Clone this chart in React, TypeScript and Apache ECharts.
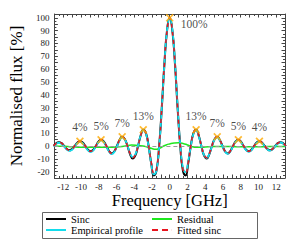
import React, { useEffect, useRef } from 'react';
import * as echarts from 'echarts';

// Frequency samples [GHz]
const freq = [
  -13.09, -12.79, -12.5, -12.2, -11.9, -11.6, -11.31, -11.01, -10.71, -10.41, -10.12, -9.82, -9.52, -9.22, -8.93,
  -8.63, -8.33, -8.03, -7.74, -7.44, -7.14, -6.84, -6.55, -6.25, -5.95, -5.65, -5.36, -5.06, -4.76, -4.46, -4.17,
  -3.87, -3.57, -3.27, -2.98, -2.68, -2.38, -2.08, -1.79, -1.49, -1.19, -0.89, -0.6, -0.3, 0, 0.3, 0.6, 0.89, 1.19,
  1.49, 1.79, 2.08, 2.38, 2.68, 2.98, 3.27, 3.57, 3.87, 4.17, 4.46, 4.76, 5.06, 5.36, 5.65, 5.95, 6.25, 6.55, 6.84,
  7.14, 7.44, 7.74, 8.03, 8.33, 8.63, 8.93, 9.22, 9.52, 9.82, 10.12, 10.41, 10.71, 11.01, 11.31, 11.6, 11.9, 12.2,
  12.5, 12.79, 13.09,
];

// Normalised flux [%]
const sinc = [
  0, 2.1, 3.0, 2.2, 0, -2.3, -3.4, -2.4, 0, 2.6, 3.7, 2.7, 0, -2.9, -4.2, -3.1, 0, 3.3, 4.9, 3.6, 0, -3.9, -5.8,
  -4.3, 0, 4.7, 7.1, 5.3, 0, -6.5, -9.8, -7.4, 0, 8.2, 12.7, 10.0, 0, -13.8, -23.0, -19.2, 0, 30.0, 63.7, 90.0, 100,
  90.0, 63.7, 30.0, 0, -19.2, -23.0, -13.8, 0, 10.0, 12.7, 8.2, 0, -7.4, -9.8, -6.5, 0, 5.3, 7.1, 4.7, 0, -4.3, -5.8,
  -3.9, 0, 3.6, 4.9, 3.3, 0, -3.1, -4.2, -2.9, 0, 2.7, 3.7, 2.6, 0, -2.4, -3.4, -2.3, 0, 2.2, 3.0, 2.1, 0,
];

const empirical = [
  -0.5, 1.6, 2.5, 1.7, -0.5, -2.8, -3.9, -2.9, -0.5, 2.1, 3.2, 2.2, -0.5, -3.4, -4.7, -3.6, -0.5, 2.8, 4.4, 3.1,
  -0.5, -4.4, -6.3, -4.8, -0.4, 4.3, 6.7, 5.1, 0.2, -5.7, -8.8, -6.6, 0.3, 8.2, 12.4, 9.7, -0.8, -13.9, -22.2, -19.0,
  -0.8, 29.6, 63.7, 90.3, 100, 91.0, 64.7, 31.0, 1.0, -17.2, -20.4, -12.3, -0.3, 9.5, 12.2, 7.8, -0.3, -7.2, -9.4,
  -6.3, -0.3, 5.0, 6.8, 4.4, -0.3, -4.6, -6.1, -4.2, -0.3, 3.3, 4.6, 3.0, -0.3, -3.4, -4.5, -3.2, -0.3, 2.4, 3.4,
  2.3, -0.3, -2.7, -3.7, -2.6, -0.3, 1.9, 2.7, 1.8, -0.3,
];

const fitted = [
  0, 2.1, 3.0, 2.2, 0, -2.3, -3.4, -2.4, 0, 2.6, 3.7, 2.7, 0, -2.9, -4.2, -3.1, 0, 3.3, 4.9, 3.6, 0, -3.9, -5.8,
  -4.3, 0, 4.7, 7.1, 5.3, 0, -6.0, -9.1, -6.9, 0, 8.2, 12.7, 10.0, 0, -12.9, -21.2, -18.0, 0, 30.0, 63.7, 90.0, 100,
  90.0, 63.7, 30.0, 0, -18.0, -21.2, -12.9, 0, 10.0, 12.7, 8.2, 0, -6.9, -9.1, -6.0, 0, 5.3, 7.1, 4.7, 0, -4.3, -5.8,
  -3.9, 0, 3.6, 4.9, 3.3, 0, -3.1, -4.2, -2.9, 0, 2.7, 3.7, 2.6, 0, -2.4, -3.4, -2.3, 0, 2.2, 3.0, 2.1, 0,
];

const resFreq = [
  -13, -12, -11, -10, -9, -8, -7, -6, -5, -4.3, -3.5, -3, -2.5, -2, -1.6, -1.2, -0.8, -0.4, 0, 0.5, 1, 1.5, 2, 2.5,
  3, 3.5, 4, 5, 6, 7, 8, 9, 10, 11, 12, 13,
];
const residual = [
  0, -0.3, -0.7, -1, -1, -1, -1, -0.8, 0, 0.7, 0.3, 0, -1, -2, -2.6, -2, -0.5, 0.8, 1.6, 2.3, 2.5, 2, 0.8, -0.5, -1,
  -1, -0.8, -0.5, -0.5, -0.5, -0.6, -0.6, -0.6, -0.5, -0.5, -0.5,
];

const peakFreq = [-10.12, -7.74, -5.36, -2.98, 0, 2.98, 5.36, 7.74, 10.12];
const peakVals = [3.7, 4.9, 7.1, 12.7, 100, 12.7, 7.1, 4.9, 3.7];
const peakLabels = ['4%', '5%', '7%', '13%', '100%', '13%', '7%', '5%', '4%'];

const FONT = 'serif';
const AXIS_COLOR = '#444';
const X_SYMBOL =
  'path://M0,1.5 L1.5,0 L5,3.5 L8.5,0 L10,1.5 L6.5,5 L10,8.5 L8.5,10 L5,6.5 L1.5,10 L0,8.5 L3.5,5 Z';
const ICON_SOLID = 'path://M0,0 L20,0 L20,2 L0,2 Z';
const ICON_DASHED = 'path://M0,0 L6,0 L6,2 L0,2 Z M10,0 L16,0 L16,2 L10,2 Z M19.9,0 L20,0 L20,2 L19.9,2 Z';

export default function App() {
  const ref = useRef<HTMLDivElement>(null);

  useEffect(() => {
    if (!ref.current) return;
    const chart = echarts.init(ref.current, null, { renderer: 'svg' });
    const pairs = (xs: number[], ys: number[]) => xs.map((x, i) => [x, ys[i]]);

    const tickStyle = { lineStyle: { color: AXIS_COLOR, width: 1 } };
    const xBase = {
      type: 'value',
      min: -13,
      max: 13,
      interval: 1,
      axisLine: { show: true, onZero: false, lineStyle: { color: AXIS_COLOR, width: 1 } },
      axisTick: { show: true, inside: true, length: 3.5, ...tickStyle },
      minorTick: { show: true, splitNumber: 2, length: 2, ...tickStyle },
      splitLine: { show: false },
    };
    const yBase = {
      type: 'value',
      min: -25,
      max: 103,
      interval: 5,
      axisLine: { show: true, onZero: false, lineStyle: { color: AXIS_COLOR, width: 1 } },
      axisTick: { show: true, inside: true, length: 3.5, ...tickStyle },
      minorTick: { show: true, splitNumber: 2, length: 2, ...tickStyle },
      splitLine: { show: false },
    };
    const legendBase = {
      orient: 'vertical',
      top: 213.5,
      itemWidth: 20,
      itemHeight: 2,
      itemGap: 0,
      padding: 0,
      textStyle: { fontSize: 10.5, fontFamily: FONT, color: '#000', lineHeight: 11 },
    };

    chart.setOption({
      animation: false,
      backgroundColor: '#fff',
      textStyle: { fontFamily: FONT },
      grid: { left: 48, right: 14, top: 14, bottom: 67, containLabel: false },
      xAxis: [
        {
          ...xBase,
          position: 'bottom',
          axisLabel: {
            show: true,
            formatter: (v: number) => (v % 2 === 0 ? String(v) : ''),
            fontSize: 9,
            lineHeight: 9,
            fontFamily: FONT,
            color: '#222',
            margin: 4,
          },
          name: 'Frequency [GHz]',
          nameLocation: 'middle',
          nameGap: 14,
          nameMoveOverlap: false,
          nameTextStyle: { fontSize: 16.5, fontFamily: FONT, color: '#000', lineHeight: 16 },
        },
        { ...xBase, position: 'top', axisLabel: { show: false } },
      ],
      yAxis: [
        {
          ...yBase,
          position: 'left',
          axisLabel: {
            show: true,
            formatter: (v: number) => (v % 10 === 0 ? String(v) : ''),
            fontSize: 9,
            fontFamily: FONT,
            color: '#222',
            margin: 5,
          },
          name: 'Normalised flux [%]',
          nameLocation: 'middle',
          nameGap: 25,
          nameTextStyle: { fontSize: 17, fontFamily: FONT, color: '#000' },
        },
        { ...yBase, position: 'right', axisLabel: { show: false } },
      ],
      legend: [
        {
          ...legendBase,
          left: 46,
          data: [
            { name: 'Sinc', icon: ICON_SOLID, itemStyle: { color: '#000' } },
            { name: 'Empirical profile', icon: ICON_SOLID, itemStyle: { color: '#12dcec' } },
          ],
        },
        {
          ...legendBase,
          left: 152,
          data: [
            { name: 'Residual', icon: ICON_SOLID, itemStyle: { color: '#1ee81e' } },
            { name: 'Fitted sinc', icon: ICON_DASHED, itemStyle: { color: '#e8141e' } },
          ],
        },
      ],
      graphic: [
        {
          type: 'rect',
          shape: { x: 42.5, y: 212.5, width: 215, height: 26 },
          style: { fill: 'none', stroke: '#666', lineWidth: 1 },
          silent: true,
        },
      ],
      series: [
        {
          name: 'Sinc',
          type: 'line',
          data: pairs(freq, sinc),
          smooth: true,
          symbol: 'none',
          showSymbol: false,
          clip: true,
          lineStyle: { color: '#000', width: 2 },
          itemStyle: { color: '#000' },
          z: 2,
        },
        {
          name: 'Residual',
          type: 'line',
          data: pairs(resFreq, residual),
          smooth: true,
          symbol: 'none',
          showSymbol: false,
          clip: true,
          lineStyle: { color: '#1ee81e', width: 1.5 },
          itemStyle: { color: '#1ee81e' },
          z: 3,
          markLine: {
            silent: true,
            symbol: 'none',
            label: { show: false },
            lineStyle: { color: '#9a9a9a', type: [4, 3], width: 1 },
            data: [{ yAxis: 0 }],
          },
        },
        {
          name: 'Empirical profile',
          type: 'line',
          data: pairs(freq, empirical),
          smooth: true,
          symbol: 'none',
          showSymbol: false,
          clip: true,
          lineStyle: { color: '#12dcec', width: 1.8 },
          itemStyle: { color: '#12dcec' },
          z: 4,
        },
        {
          name: 'Fitted sinc',
          type: 'line',
          data: pairs(freq, fitted),
          smooth: true,
          symbol: 'none',
          showSymbol: false,
          clip: true,
          lineStyle: { color: '#e8141e', width: 1.5, type: [4, 4] },
          itemStyle: { color: '#e8141e' },
          z: 5,
        },
        {
          name: 'Peaks',
          type: 'scatter',
          symbol: X_SYMBOL,
          symbolSize: 8,
          itemStyle: { color: '#ffaa00' },
          z: 6,
          data: peakFreq.map((x, i) => ({
            value: [x, peakVals[i]],
            label:
              peakLabels[i] === '100%'
                ? { position: 'right', offset: [2, 6] }
                : { position: 'top', distance: 4 },
          })),
          label: {
            show: true,
            formatter: (p: any) => peakLabels[p.dataIndex],
            fontSize: 11.5,
            fontFamily: FONT,
            color: '#1a1a1a',
          },
        },
      ],
    });

    return () => chart.dispose();
  }, []);

  return (
    <div
      ref={ref}
      style={{ position: 'fixed', left: 0, top: 0, width: 299, height: 245, background: '#fff' }}
    />
  );
}
